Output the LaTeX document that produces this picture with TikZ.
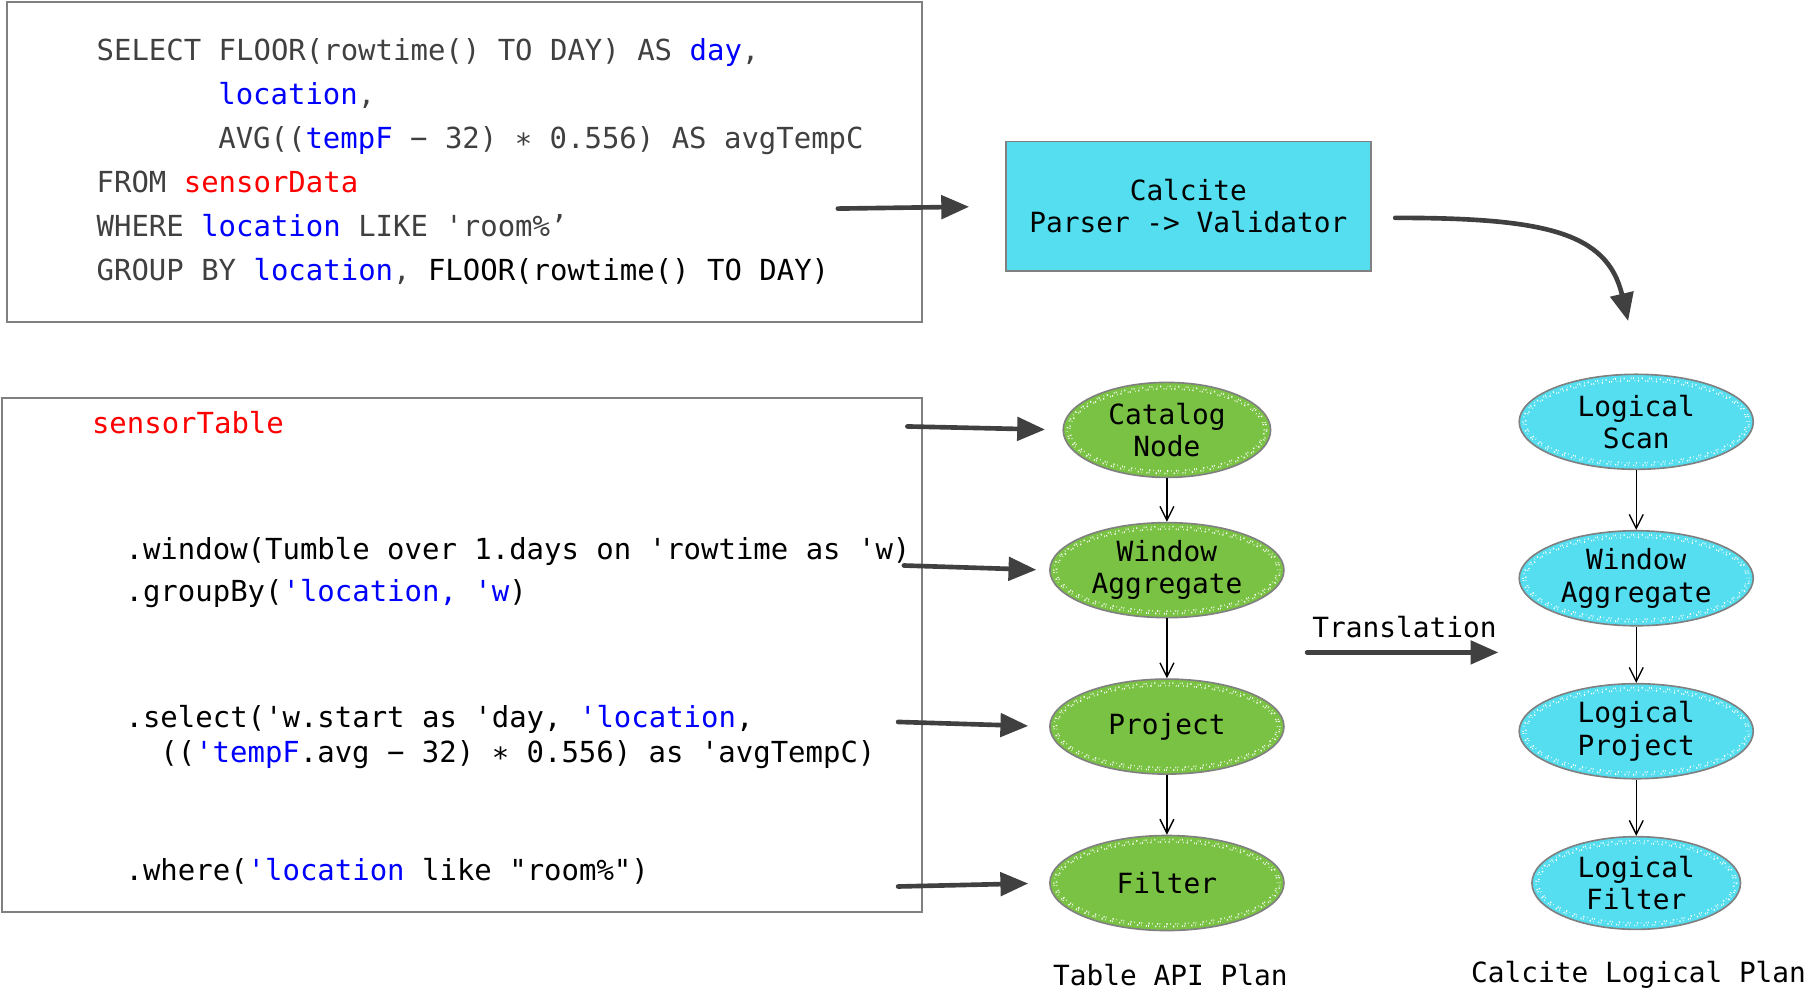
\documentclass[tikz,border=0pt]{standalone}
\usepackage{fontspec}
\setmonofont{DejaVu Sans Mono}
\usetikzlibrary{calc,shapes,arrows.meta,positioning}

\definecolor{planGreen}{RGB}{122,194,67}
\definecolor{planCyan}{RGB}{84,222,239}
\definecolor{keyBlue}{RGB}{0,0,255}
\definecolor{keyRed}{RGB}{255,0,0}
\definecolor{sqlGray}{RGB}{64,64,64}
\definecolor{arrowGray}{RGB}{64,64,64}
\definecolor{boxGray}{RGB}{128,128,128}

\newcommand{\kw}[1]{\textcolor{keyBlue}{#1}}
\newcommand{\tb}[1]{\textcolor{keyRed}{#1}}

\begin{document}
\begin{tikzpicture}[x=0.5pt, y=-0.5pt,
    font=\ttfamily\fontsize{12.5}{19}\selectfont,
    codebox/.style={draw=boxGray, line width=0.8pt, inner sep=0pt, anchor=north west},
    codeline/.style={anchor=base west, inner sep=0pt},
    speckle/.style={white, line width=0.8pt,
      dash pattern=on 0.3pt off 0.7pt on 0.5pt off 1.6pt on 0.2pt off 0.5pt on 0.4pt off 2.3pt on 0.3pt off 1.1pt},
    speckletwo/.style={white, line width=0.7pt,
      dash pattern=on 0.2pt off 1.9pt on 0.4pt off 0.6pt on 0.3pt off 2.7pt on 0.5pt off 1.2pt},
    greenop/.style={ellipse, draw=gray, fill=planGreen, line width=0.7pt,
      minimum width=101pt, minimum height=41pt, inner sep=0pt, align=center,
      font=\ttfamily\fontsize{12}{14}\selectfont,
      path picture={\path let \p1=(path picture bounding box.north east),
        \p2=(path picture bounding box.center) in
        [draw, speckle] (\p2) ellipse ({\x1-\x2-1.7pt} and {\y1-\y2-1.7pt})
        [draw, speckletwo] (\p2) ellipse ({\x1-\x2-2.8pt} and {\y1-\y2-2.8pt});}},
    cyanop/.style={greenop, fill=planCyan},
    bigarrow/.style={-{Triangle[length=12pt,width=10pt]}, line width=2pt,
      draw=arrowGray, line cap=round},
    smallarrow/.style={-{Straight Barb[length=6pt,width=6pt]}, line width=0.6pt, black},
    plantitle/.style={font=\ttfamily\fontsize{12}{14}\selectfont}]

  \path[use as bounding box, fill=white] (0,0) rectangle (1568,863);

  % SQL query
  \node[codebox, minimum width=395pt, minimum height=138pt] (sqlbox) at (5,1) {};
  \begin{scope}[color=sqlGray]
    \node[codeline] (sql1) at (83,52)  {SELECT FLOOR(rowtime() TO DAY) AS \kw{day},};
    \node[codeline] (sql2) at (188,90) {\kw{location},};
    \node[codeline] (sql3) at (188,128) {AVG((\kw{tempF} − 32) ∗ 0.556) AS avgTempC};
    \node[codeline] (sql4) at (83,166) {FROM \tb{sensorData}};
    \node[codeline] (sql5) at (83,204) {WHERE \kw{location} LIKE 'room\%’};
    \node[codeline] (sql6) at (83,242) {GROUP BY \kw{location}, \textcolor{black}{FLOOR(rowtime() TO DAY)}};
  \end{scope}

  % Table API program
  \node[codebox, minimum width=397pt, minimum height=221.5pt] (tablebox) at (1,343) {};
  \node[codeline] (tab1) at (79,374)  {\tb{sensorTable}};
  \node[codeline] (tab2) at (108,483) {.window(Tumble over 1.days on 'rowtime as 'w)};
  \node[codeline] (tab3) at (108,519) {.groupBy(\kw{'location, 'w})};
  \node[codeline] (tab4) at (108,628) {.select('w.start as 'day, \kw{'location},};
  \node[codeline] (tab5) at (138,658) {((\kw{'tempF}.avg − 32) ∗ 0.556) as 'avgTempC)};
  \node[codeline] (tab6) at (108,760) {.where(\kw{'location} like "room\%")};

  % Calcite parser
  \node[draw=boxGray, fill=planCyan, line width=0.7pt, align=center,
    minimum width=157.5pt, minimum height=56pt,
    font=\ttfamily\fontsize{12}{14}\selectfont] (calcite) at (1025.5,178)
    {Calcite\\Parser -> Validator};

  % Table API plan
  \node[greenop, minimum width=89.5pt] (gcatalog) at (1007,371) {Catalog\\Node};
  \node[greenop, below=18.8pt of gcatalog] (gwindow) {Window\\Aggregate};
  \node[greenop, below=25.8pt of gwindow] (gproject) {Project};
  \node[greenop, below=25.8pt of gproject] (gfilter) {Filter};
  \node[plantitle] (gtitle) at (1010,841) {Table API Plan};

  % Calcite logical plan
  \node[cyanop] (cscan) at (1412,364) {Logical\\Scan};
  \node[cyanop, below=25.8pt of cscan] (cwindow) {Window\\Aggregate};
  \node[cyanop, below=24.3pt of cwindow] (cproject) {Logical\\Project};
  \node[cyanop, minimum width=90pt, minimum height=40pt,
    below=24.3pt of cproject] (cfilter) {Logical\\Filter};
  \node[plantitle] (ctitle) at (1414,841) {Calcite Logical Plan};

  % Free ends of the thick arrows
  \coordinate (sqlout) at (723,180);
  \coordinate (tabout1) at (783,368);
  \coordinate (tabout2) at (780,488);
  \coordinate (tabout3) at (775,623);
  \coordinate (tabout4) at (775,765);
  \coordinate (bendstart) at (1204,188);
  \coordinate (bendend) at (1405,277);
  \coordinate (transstart) at (1128,563);
  \coordinate (transend) at (1293,563);
  \node[plantitle] (translabel) at (1212,541) {Translation};

  % Connect the parts with arrows
  \draw[bigarrow, shorten >=15.5pt] (sqlout) -- (calcite.west);
  \draw[bigarrow] (bendstart) .. controls (1332,188) and (1387,200) .. (bendend);
  \draw[bigarrow, shorten >=7.5pt] (tabout1) -- (gcatalog.west);
  \draw[bigarrow, shorten >=5.5pt] (tabout2) -- (gwindow.west);
  \draw[bigarrow, shorten >=9pt] (tabout3) -- (gproject.west);
  \draw[bigarrow, shorten >=9pt] (tabout4) -- (gfilter.west);
  \draw[bigarrow] (transstart) -- (transend);

  \draw[smallarrow]
    (gcatalog) edge (gwindow)
    (gwindow)  edge (gproject)
    (gproject) edge (gfilter)
    (cscan)    edge (cwindow)
    (cwindow)  edge (cproject)
    (cproject) edge (cfilter);
\end{tikzpicture}
\end{document}
